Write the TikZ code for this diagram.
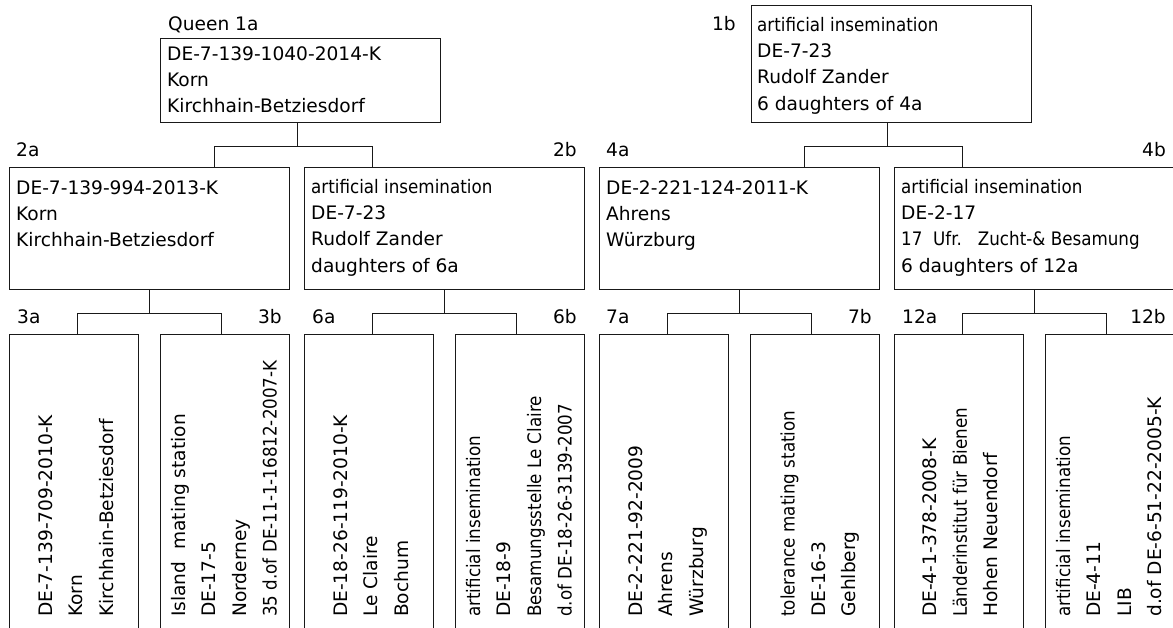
\documentclass[tikz,border=0pt]{standalone}
\usepackage{fontspec}
\setmainfont{DejaVu Sans}
\newfontfamily\narrowfont[FakeStretch=0.9]{DejaVu Sans}
\newcommand{\nar}[1]{{\narrowfont #1}}
\usetikzlibrary{calc}
\tikzset{
  colony/.style={draw=black!90, line width=1.4pt, minimum width=280pt, inner sep=0pt, anchor=north west},
  hive/.style={draw=black!90, line width=1.4pt, minimum width=129pt, minimum height=320pt, inner sep=0pt, anchor=north west},
  info/.style={font=\fontsize{18.6}{26.3}\selectfont, align=left, inner sep=0pt, anchor=north west},
  infoup/.style={font=\fontsize{18.6}{30.5}\selectfont, align=left, inner sep=0pt, anchor=west, rotate=90},
  tag/.style={font=\fontsize{18.6}{22}\selectfont, inner sep=0pt, text depth=0pt},
  link/.style={draw=black!90, line width=1.4pt}
}

\begin{document}
\begin{tikzpicture}[x=1pt, y=-1pt]
\useasboundingbox (0,0) rectangle (1173,628);
\clip (0,0) rectangle (1173,628);

% Generation 1
\node[colony, minimum height=84pt] (q1a) at (160,38) {};
\node[colony, minimum height=117pt] (q1b) at (751,5) {};
\node[tag, anchor=base west] (l1a) at (168,31) {Queen 1a};
\node[tag, anchor=base east] (l1b) at (736,31) {1b};
\node[info] (t1a) at (167,46) {DE-7-139-1040-2014-K\\Korn\\Kirchhain-Betziesdorf};
\node[info] (t1b) at (757,17) {\nar{artificial insemination}\\DE-7-23\\Rudolf Zander\\6 daughters of 4a};

% Generation 2
\node[colony, minimum height=122pt] (q2a) at (9,167) {};
\node[colony, minimum height=122pt] (q2b) at (304,167) {};
\node[colony, minimum height=122pt] (q4a) at (599,167) {};
\node[colony, minimum height=122pt] (q4b) at (894,167) {};
\node[tag, anchor=base west] (l2a) at (16,157) {2a};
\node[tag, anchor=base east] (l2b) at (577,157) {2b};
\node[tag, anchor=base west] (l4a) at (606,157) {4a};
\node[tag, anchor=base east] (l4b) at (1166,157) {4b};
\node[info] (t2a) at (16,180) {DE-7-139-994-2013-K\\Korn\\Kirchhain-Betziesdorf};
\node[info] (t2b) at (311,179) {\nar{artificial insemination}\\DE-7-23\\Rudolf Zander\\daughters of 6a};
\node[info] (t4a) at (606,180) {DE-2-221-124-2011-K\\Ahrens\\Würzburg};
\node[info] (t4b) at (901,179) {\nar{artificial insemination}\\DE-2-17\\\nar{17\ \ Ufr.\ \ \ Zucht-\& Besamung}\\6 daughters of 12a};

% Generation 3
\node[hive] (q3a) at (9,334) {};
\node[hive] (q3b) at (160,334) {};
\node[hive] (q6a) at (304,334) {};
\node[hive] (q6b) at (455,334) {};
\node[hive] (q7a) at (599,334) {};
\node[hive] (q7b) at (750,334) {};
\node[hive] (q12a) at (894,334) {};
\node[hive] (q12b) at (1045,334) {};
\node[tag, anchor=base west] (l3a) at (17,324) {3a};
\node[tag, anchor=base east] (l3b) at (282,324) {3b};
\node[tag, anchor=base west] (l6a) at (312,324) {6a};
\node[tag, anchor=base east] (l6b) at (577,324) {6b};
\node[tag, anchor=base west] (l7a) at (606,324) {7a};
\node[tag, anchor=base east] (l7b) at (872,324) {7b};
\node[tag, anchor=base west] (l12a) at (902,324) {12a};
\node[tag, anchor=base east] (l12b) at (1166,324) {12b};
\node[infoup] (t3a) at (76,617) {DE-7-139-709-2010-K\\Korn\\Kirchhain-Betziesdorf};
\node[infoup] (t3b) at (224,617) {Island\ \ mating station\\DE-17-5\\Norderney\\\nar{35 d.of DE-11-1-16812-2007-K}};
\node[infoup] (t6a) at (371,617) {DE-18-26-119-2010-K\\Le Claire\\Bochum};
\node[infoup] (t6b) at (519,617) {\nar{artificial insemination}\\DE-18-9\\\nar{Besamungsstelle Le Claire}\\\nar{d.of DE-18-26-3139-2007}};
\node[infoup] (t7a) at (668,617) {DE-2-221-92-2009\\Ahrens\\Würzburg};
\node[infoup] (t7b) at (820,617) {\nar{tolerance mating station}\\DE-16-3\\Gehlberg};
\node[infoup] (t12a) at (960,617) {DE-4-1-378-2008-K\\\nar{Länderinstitut für Bienen}\\Hohen Neuendorf};
\node[infoup] (t12b) at (1109,617) {\nar{artificial insemination}\\DE-4-11\\LIB\\d.of DE-6-51-22-2005-K};

% Descent lines
\draw[link] ([xshift=-3.5pt]q1a.south) -- ++(0,23) coordinate (j1a);
\draw[link] ([xshift=65pt]q2a.north) |- (j1a) -| ([xshift=-72pt]q2b.north);
\draw[link] ([xshift=-4pt]q1b.south) -- ++(0,23) coordinate (j1b);
\draw[link] ([xshift=65pt]q4a.north) |- (j1b) -| ([xshift=-72pt]q4b.north);
\draw[link] (q2a.south) -- ++(0,23) coordinate (j2a);
\draw[link] ([xshift=3.5pt]q3a.north) |- (j2a) -| ([xshift=-3.5pt]q3b.north);
\draw[link] (q2b.south) -- ++(0,23) coordinate (j2b);
\draw[link] ([xshift=3.5pt]q6a.north) |- (j2b) -| ([xshift=-3.5pt]q6b.north);
\draw[link] (q4a.south) -- ++(0,23) coordinate (j4a);
\draw[link] ([xshift=3.5pt]q7a.north) |- (j4a) -| ([xshift=-3.5pt]q7b.north);
\draw[link] (q4b.south) -- ++(0,23) coordinate (j4b);
\draw[link] ([xshift=3.5pt]q12a.north) |- (j4b) -| ([xshift=-3.5pt]q12b.north);
\end{tikzpicture}
\end{document}
